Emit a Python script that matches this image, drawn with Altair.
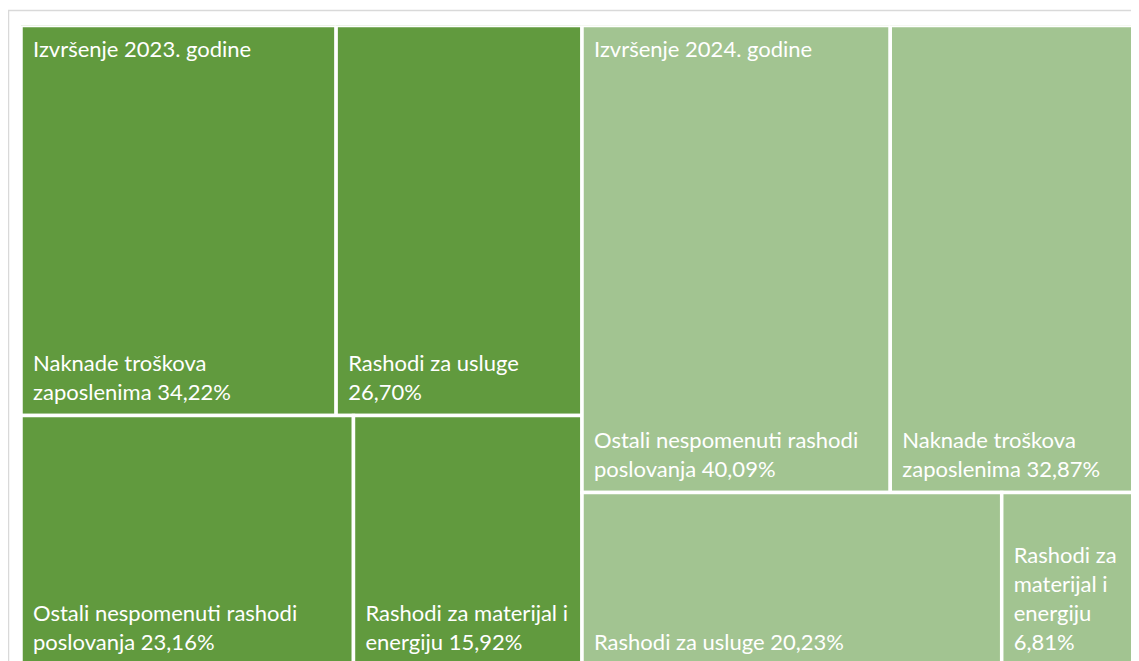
import altair as alt
import pandas as pd

# ---- data ----
groups = ["Izvršenje 2023. godine", "Izvršenje 2024. godine"]

cats_2023 = [
    "Naknade troškova zaposlenima",
    "Rashodi za usluge",
    "Ostali nespomenuti rashodi poslovanja",
    "Rashodi za materijal i energiju",
]
vals_2023 = [34.22, 26.70, 23.16, 15.92]
labels_2023 = [
    "Naknade troškova\nzaposlenima 34,22%",
    "Rashodi za usluge\n26,70%",
    "Ostali nespomenuti rashodi\nposlovanja 23,16%",
    "Rashodi za materijal i\nenergiju 15,92%",
]

cats_2024 = [
    "Ostali nespomenuti rashodi poslovanja",
    "Naknade troškova zaposlenima",
    "Rashodi za usluge",
    "Rashodi za materijal i energiju",
]
vals_2024 = [40.09, 32.87, 20.23, 6.81]
labels_2024 = [
    "Ostali nespomenuti rashodi\nposlovanja 40,09%",
    "Naknade troškova\nzaposlenima 32,87%",
    "Rashodi za usluge 20,23%",
    "Rashodi za\nmaterijal i\nenergiju\n6,81%",
]

group_colors = ["#619A3E", "#A2C491"]


# ---- treemap layout (rows of two, sorted descending) ----
def layout(values, x0, w):
    total = sum(values)
    rects = []
    y = 0.0
    for i in range(0, len(values), 2):
        row = values[i:i + 2]
        rs = sum(row)
        rh = rs / total
        x = x0
        for v in row:
            rw = v / rs * w
            rects.append((x, x + rw, y, y + rh))
            x += rw
        y += rh
    return rects


all_groups = [
    (groups[0], cats_2023, vals_2023, labels_2023),
    (groups[1], cats_2024, vals_2024, labels_2024),
]
grand = sum(sum(g[2]) for g in all_groups)

rows = []
title_rows = []
gx = 0.0
for gname, cats, vals, labs in all_groups:
    gw = sum(vals) / grand * 2
    title_rows.append({"group": gname, "x0": gx, "y0": 0.0})
    for c, v, l, r in zip(cats, vals, labs, layout(vals, gx, gw)):
        rows.append({"group": gname, "cat": c, "value": v, "label": l,
                     "x0": r[0], "x1": r[1], "y0": r[2], "y1": r[3]})
    gx += gw

df = pd.DataFrame(rows)
tdf = pd.DataFrame(title_rows)

W, H = 1110, 640          # visible plot area (page is 1123 px wide inside margins)
FULL_W = 1122             # full treemap width, partly cut at the right edge
LINE_H = 29
xscale = alt.Scale(domain=[0, 2 * W / FULL_W], nice=False, zero=False)
yscale = alt.Scale(domain=[0, 1], nice=False, zero=False, reverse=True)

rects = alt.Chart(df).mark_rect(stroke="white", strokeWidth=3.5, clip=True).encode(
    x=alt.X("x0:Q", scale=xscale, axis=None),
    x2="x1:Q",
    y=alt.Y("y0:Q", scale=yscale, axis=None),
    y2="y1:Q",
    color=alt.Color("group:N", scale=alt.Scale(domain=groups, range=group_colors), legend=None),
    tooltip=["group:N", "cat:N", "value:Q"],
)

labels = alt.Chart(df).transform_calculate(
    ytext=f"datum.y1 - (length(split(datum.label, '\\n')) - 1) * {LINE_H} / {H}"
).mark_text(
    align="left", baseline="alphabetic", dx=12, dy=-15.5,
    font="Lato", fontSize=22, lineHeight=LINE_H, color="white",
    lineBreak="\n", clip=True,
).encode(
    x=alt.X("x0:Q", scale=xscale, axis=None),
    y=alt.Y("ytext:Q", scale=yscale, axis=None),
    text="label:N",
)

titles = alt.Chart(tdf).mark_text(
    align="left", baseline="alphabetic", dx=12, dy=31.5,
    font="Lato", fontSize=22, color="white", clip=True,
).encode(
    x=alt.X("x0:Q", scale=xscale, axis=None),
    y=alt.Y("y0:Q", scale=yscale, axis=None),
    text="group:N",
)

frame_df = pd.DataFrame({"k": [0]})
top_border = alt.Chart(frame_df).mark_rule(color="#D9D9D9", strokeWidth=1.5).encode(
    x=alt.value(-13), x2=alt.value(W), y=alt.value(-15)
)
left_border = alt.Chart(frame_df).mark_rule(color="#D9D9D9", strokeWidth=1.5).encode(
    x=alt.value(-12.5), y=alt.value(-15), y2=alt.value(H)
)

chart = alt.layer(top_border, left_border, rects, labels, titles).properties(
    width=W,
    height=H,
    padding={"left": 13, "top": 17.5, "right": 0, "bottom": 0},
    autosize=alt.AutoSizeParams(type="none"),
    background="white",
).configure_view(stroke=None)

chart.save("out.html", embed_options={"renderer": "svg", "actions": False})
